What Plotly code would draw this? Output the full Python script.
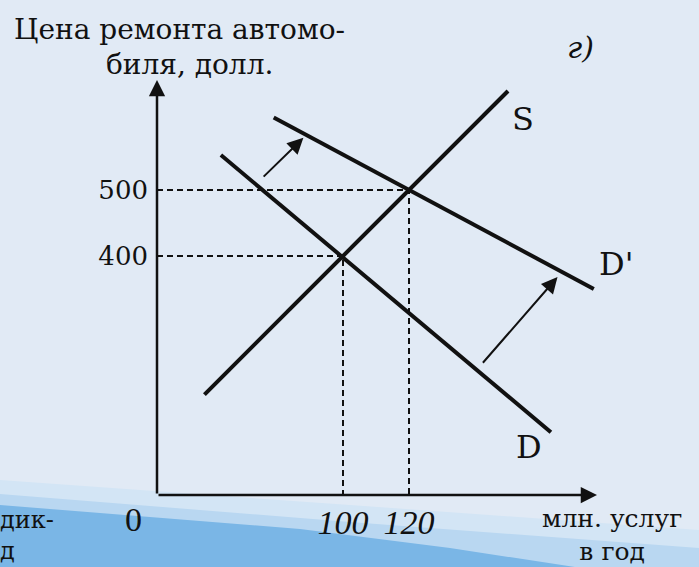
import plotly.graph_objects as go

# ---- data ----
s_q = [58, 150]
s_p = [190, 650]
d_q = [63, 163]
d_p = [553, 133]
d2_q = [79, 176]
d2_p = [610, 350]

eq_q = [100, 120]
eq_p = [400, 500]

shift1_q = [75.5, 88]
shift1_p = [518, 579]
shift2_q = [142, 165]
shift2_p = [236, 368]

x_tickvals = [100, 120]
x_ticktext = ["100", "120"]
y_tickvals = [400, 500]
y_ticktext = ["400", "500"]

# ---- geometry ----
W, H = 699, 567
ML, MR, MT, MB = 157, 0, 0, 72
PW, PH = W - ML - MR, H - MT - MB
X0, XPX = 13.0, 3.3      # pixel = X0 + XPX*q
Y0, YPX = 520.0, 0.66    # pixel = Y0 - YPX*p
xr = [(ML - X0) / XPX, (W - MR - X0) / XPX]
yr = [(Y0 - (H - MB)) / YPX, (Y0 - MT) / YPX]
q0, p0 = xr[0], yr[0]


def pp(px, py):
    return (px - ML) / PW, (H - MB - py) / PH


FONT = "DejaVu Serif"
INK = "#111111"

fig = go.Figure()

# dashed guides
for q, p in zip(eq_q, eq_p):
    fig.add_trace(go.Scatter(x=[q0, q, q], y=[p, p, p0], mode="lines",
                             line=dict(color=INK, width=2, dash="6px,4px"),
                             hoverinfo="skip", showlegend=False))

for xs, ys in [(s_q, s_p), (d_q, d_p), (d2_q, d2_p)]:
    fig.add_trace(go.Scatter(x=xs, y=ys, mode="lines",
                             line=dict(color=INK, width=4),
                             hoverinfo="skip", showlegend=False))

ann = []
# axes as arrows
ann.append(dict(x=q0, y=(Y0 - 80) / YPX, ax=q0, ay=p0, xref="x", yref="y",
                axref="x", ayref="y", showarrow=True, arrowhead=2,
                arrowsize=1.3, arrowwidth=2.5, arrowcolor=INK, text=""))
ann.append(dict(x=(597 - X0) / XPX, y=p0, ax=q0, ay=p0, xref="x", yref="y",
                axref="x", ayref="y", showarrow=True, arrowhead=2,
                arrowsize=1.3, arrowwidth=2.5, arrowcolor=INK, text=""))
# shift arrows
for qs, ps in [(shift1_q, shift1_p), (shift2_q, shift2_p)]:
    ann.append(dict(x=qs[1], y=ps[1], ax=qs[0], ay=ps[0], xref="x", yref="y",
                    axref="x", ayref="y", showarrow=True, arrowhead=2,
                    arrowsize=1.6, arrowwidth=2, arrowcolor=INK, text=""))

# curve labels
ann.append(dict(x=s_q[1], y=s_p[1], text="S", showarrow=False, xref="x", yref="y",
                xshift=15, yshift=-28, font=dict(family=FONT, size=32, color=INK)))
ann.append(dict(x=d_q[1], y=d_p[1], text="D", showarrow=False, xref="x", yref="y",
                xshift=-22, yshift=-15, font=dict(family=FONT, size=32, color=INK)))
ann.append(dict(x=d2_q[1], y=d2_p[1], text="D'", showarrow=False, xref="x", yref="y",
                xshift=22, yshift=25, font=dict(family=FONT, size=32, color=INK)))


def txt(px, py, s, size, italic=False, anchor="left", family=FONT, align="left"):
    x, y = pp(px, py)
    ann.append(dict(x=x, y=y, xref="paper", yref="paper", text=s, showarrow=False,
                    xanchor=anchor, yanchor="middle", align=align,
                    font=dict(family=family, size=size, color=INK,
                              style="italic" if italic else "normal")))


txt(12, 30, "Цена ремонта автомо-", 28)
txt(104, 64, "биля, долл.", 28)
txt(580, 48, "г)", 30, italic=True, anchor="center")
txt(133, 519, "0", 34, anchor="center", family="Liberation Serif")
txt(612, 535, "млн. услуг<br>в год", 25, anchor="center", align="center")
txt(-2, 535, "дик-<br>д", 24)

# background swoosh
def path(points):
    segs = []
    for i, (px, py) in enumerate(points):
        x, y = pp(px, py)
        segs.append(("M" if i == 0 else "L") + f"{x:.4f},{y:.4f}")
    return " ".join(segs) + " Z"


shapes = [
    dict(type="path", xref="paper", yref="paper", layer="below", line=dict(width=0),
         fillcolor="#d3e5f5", path=path([(0, 480), (350, 505), (699, 530), (699, 567), (0, 567)])),
    dict(type="path", xref="paper", yref="paper", layer="below", line=dict(width=0),
         fillcolor="#b9d7f1", path=path([(0, 494), (350, 522), (699, 548), (699, 567), (0, 567)])),
    dict(type="path", xref="paper", yref="paper", layer="below", line=dict(width=0),
         fillcolor="#7ab6e6", path=path([(0, 505), (300, 529), (450, 548), (575, 567), (0, 567)])),
]

fig.update_layout(
    width=W, height=H,
    margin=dict(l=ML, r=MR, t=MT, b=MB),
    paper_bgcolor="#e1eaf5", plot_bgcolor="rgba(0,0,0,0)",
    showlegend=False,
    annotations=ann, shapes=shapes,
    xaxis=dict(range=xr, showgrid=False, zeroline=False, showline=False,
               tickvals=x_tickvals, ticktext=x_ticktext, ticks="",
               ticklabelstandoff=4,
               tickfont=dict(family="Liberation Serif", size=34, color=INK, style="italic")),
    yaxis=dict(range=yr, showgrid=False, zeroline=False, showline=False,
               tickvals=y_tickvals, ticktext=y_ticktext, ticks="",
               ticklabelstandoff=8,
               tickfont=dict(family=FONT, size=26, color=INK)),
)

fig.write_html("out.html", config={"displayModeBar": False},
               post_script="document.body.style.margin='0';")
